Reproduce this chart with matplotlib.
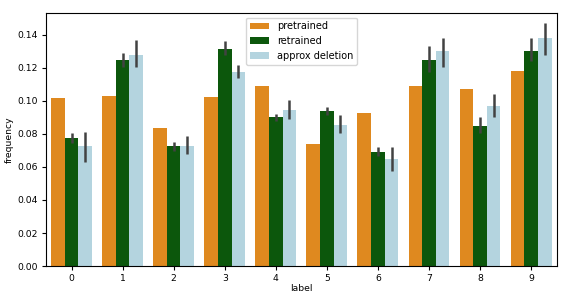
import matplotlib
matplotlib.use('Agg')
import matplotlib.pyplot as plt
import numpy as np

labels = ['0', '1', '2', '3', '4', '5', '6', '7', '8', '9']
hues = ['pretrained', 'retrained', 'approx deletion']

pretrained = [0.1018, 0.1030, 0.0833, 0.1024, 0.1087, 0.0736, 0.0927, 0.1087, 0.1069, 0.1179]

retrained = [0.0776, 0.1248, 0.0726, 0.1314, 0.0899, 0.0937, 0.0691, 0.1244, 0.0849, 0.1302]
retrained_lo = [0.0746, 0.1202, 0.0697, 0.1278, 0.0879, 0.0913, 0.0664, 0.1175, 0.0806, 0.1238]
retrained_hi = [0.0806, 0.1290, 0.0752, 0.1363, 0.0917, 0.0960, 0.0720, 0.1331, 0.0899, 0.1381]

approx = [0.0726, 0.1276, 0.0726, 0.1173, 0.0943, 0.0853, 0.0645, 0.1300, 0.0968, 0.1379]
approx_lo = [0.0627, 0.1205, 0.0676, 0.1139, 0.0887, 0.0803, 0.0577, 0.1205, 0.0899, 0.1278]
approx_hi = [0.0810, 0.1367, 0.0786, 0.1214, 0.1004, 0.0913, 0.0722, 0.1379, 0.1038, 0.1468]

# seaborn-style desaturated colours (saturation 0.75)
colors = ['#df891f', '#0c570c', '#b4d4df']

fs = 6.7
fig = plt.figure(figsize=(5.68, 2.94), dpi=100)
ax = fig.add_axes([0.081, 0.095, 0.899, 0.862])

x = np.arange(len(labels))
w = 0.8 / 3
series = [(pretrained, None, None), (retrained, retrained_lo, retrained_hi), (approx, approx_lo, approx_hi)]

for i, (vals, lo, hi) in enumerate(series):
    pos = x - 0.8 / 2 + w * (i + 0.5)
    ax.bar(pos, vals, width=w, color=colors[i], label=hues[i], linewidth=0)
    if lo is not None:
        ax.vlines(pos, lo, hi, color='#424242', linewidth=1.8, zorder=3)

ax.set_xlim(-0.5, 9.5)
ax.set_ylim(0, 0.1533)
ax.set_xticks(x)
ax.set_xticklabels(labels)
ax.set_yticks(np.arange(0, 0.141, 0.02))
ax.set_yticklabels([f'{v:.2f}' for v in np.arange(0, 0.141, 0.02)])
ax.tick_params(labelsize=fs, length=3, pad=2.5)
ax.set_xlabel('label', fontsize=fs, labelpad=1)
ax.set_ylabel('frequency', fontsize=fs, labelpad=3)
ax.legend(loc='upper center', fontsize=7)

plt.savefig('out.png', dpi=100)
plt.close()
